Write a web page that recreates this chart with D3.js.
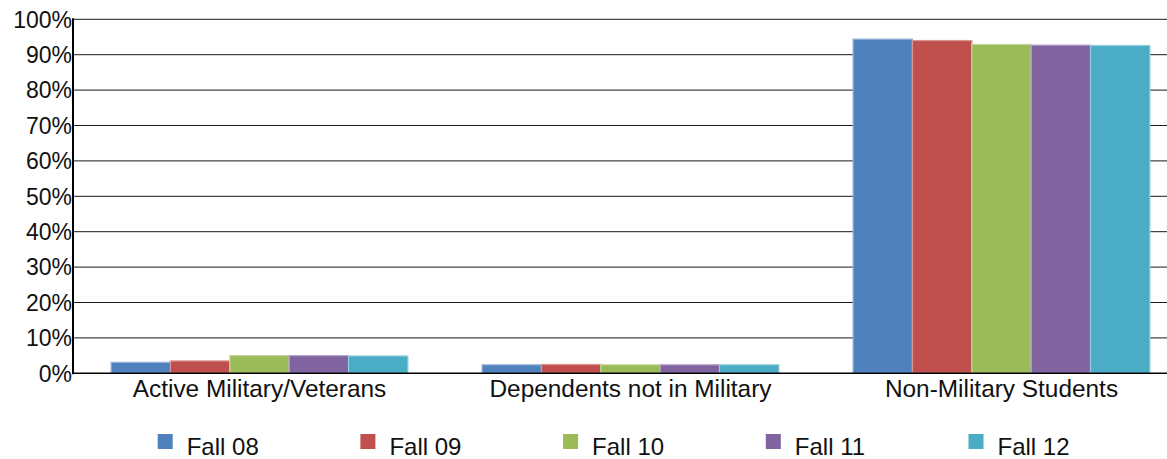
<!DOCTYPE html>
<html lang="en">
<head>
  <meta charset="UTF-8">
  <title>Students by military status</title>
  <style>
    body { margin: 0; background: #fff; }
    svg { display: block; font-family: "Liberation Sans", Arial, sans-serif; }
    text { fill: #111; }
  </style>
</head>
<body>
  <svg width="1167" height="459"></svg>

  <script src="https://d3js.org/d3.v7.min.js"></script>
  <script>
    // data (percent of students)
    const categories = ["Active Military/Veterans", "Dependents not in Military", "Non-Military Students"];
    const terms = ["Fall 08", "Fall 09", "Fall 10", "Fall 11", "Fall 12"];
    const fall08 = [3.1, 2.4, 94.4];
    const fall09 = [3.5, 2.5, 94.0];
    const fall10 = [5.0, 2.4, 92.9];
    const fall11 = [5.0, 2.4, 92.7];
    const fall12 = [4.9, 2.4, 92.6];
    const yTicks = [0, 10, 20, 30, 40, 50, 60, 70, 80, 90, 100];
    const colors = ["#4f81bd", "#c0504d", "#9bbb59", "#8064a2", "#4bacc6"];

    const series = [fall08, fall09, fall10, fall11, fall12];

    const svg = d3.select("svg");
    const plotLeft = 73, plotTop = 19.3, plotBottom = 373.3, plotRight = 1187;

    const x = d3.scaleBand()
      .domain(categories)
      .range([plotLeft + 1, plotRight])
      .paddingInner(0.2)
      .paddingOuter(0.1);

    const x1 = d3.scaleBand()
      .domain(terms)
      .range([0, x.bandwidth()]);

    const y = d3.scaleLinear()
      .domain([0, 100])
      .range([plotBottom, plotTop]);

    // gridlines
    svg.append("g")
      .selectAll("line")
      .data(yTicks.filter(d => d > 0))
      .join("line")
      .attr("x1", plotLeft)
      .attr("x2", 1167)
      .attr("y1", d => y(d))
      .attr("y2", d => y(d))
      .attr("stroke", "#1a1a1a")
      .attr("stroke-width", 1);

    // bars
    const group = svg.append("g")
      .selectAll("g")
      .data(categories)
      .join("g")
      .attr("transform", d => `translate(${x(d)},0)`);

    group.selectAll("rect")
      .data((c, i) => terms.map((t, k) => ({ term: t, value: series[k][i], color: colors[k] })))
      .join("rect")
      .attr("x", d => x1(d.term))
      .attr("width", x1.bandwidth())
      .attr("y", d => y(d.value))
      .attr("height", d => plotBottom - y(d.value))
      .attr("fill", d => d.color)
      .attr("stroke", d => d3.interpolateRgb(d.color, "#fff")(0.4))
      .attr("stroke-width", 1.2);

    // axes lines
    svg.append("line")
      .attr("x1", plotLeft).attr("x2", plotLeft)
      .attr("y1", plotTop - 1).attr("y2", plotBottom + 1)
      .attr("stroke", "#000").attr("stroke-width", 2);
    svg.append("line")
      .attr("x1", plotLeft).attr("x2", 1167)
      .attr("y1", plotBottom).attr("y2", plotBottom)
      .attr("stroke", "#000").attr("stroke-width", 1.5);

    // y tick labels
    svg.append("g")
      .selectAll("text")
      .data(yTicks)
      .join("text")
      .attr("x", plotLeft - 1)
      .attr("y", d => y(d))
      .attr("dy", "0.36em")
      .attr("text-anchor", "end")
      .attr("font-size", 23)
      .text(d => d + "%");

    // category labels
    svg.append("g")
      .selectAll("text")
      .data(categories)
      .join("text")
      .attr("x", d => x(d) + x.bandwidth() / 2)
      .attr("y", 397.3)
      .attr("text-anchor", "middle")
      .attr("font-size", 24.4)
      .text(d => d);

    // legend
    const legend = svg.append("g")
      .selectAll("g")
      .data(terms)
      .join("g")
      .attr("transform", (d, i) => `translate(${157.7 + i * 202.7},434)`);

    legend.append("rect")
      .attr("width", 15)
      .attr("height", 15)
      .attr("fill", (d, i) => colors[i]);

    legend.append("text")
      .attr("x", 29)
      .attr("y", 21)
      .attr("font-size", 24)
      .text(d => d);
  </script>
</body>
</html>
